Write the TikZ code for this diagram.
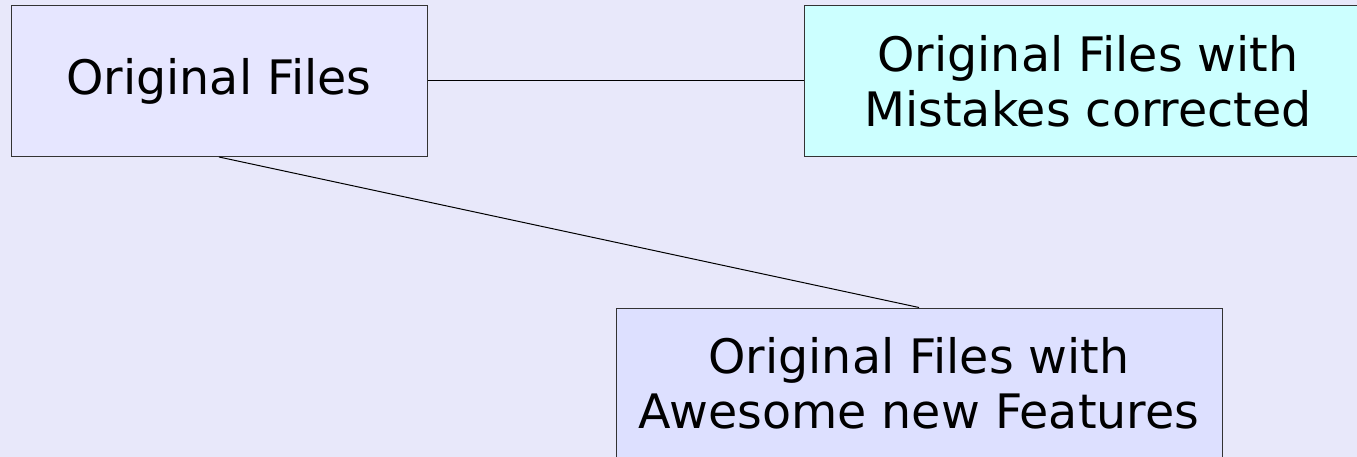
\documentclass[tikz,border=0pt]{standalone}
\usepackage{fontspec}
\setmainfont{DejaVu Sans}
\definecolor{bgcol}{HTML}{E8E8FA}
\definecolor{boxa}{HTML}{E6E6FF}
\definecolor{boxb}{HTML}{CCFFFF}
\definecolor{boxc}{HTML}{DDE0FF}
\definecolor{edgecol}{HTML}{333333}
\tikzset{
  filebox/.style={draw=edgecol, line width=1pt, minimum height=151pt, inner sep=0pt, align=center,
    font=\fontsize{47.5}{54.6}\selectfont},
  link/.style={draw=black, line width=1pt}
}
\begin{document}
\begin{tikzpicture}[x=1pt,y=-1pt]
\useasboundingbox (0,0) rectangle (1357,457);
\clip (0,0) rectangle (1357,457);
\fill[bgcol] (0,0) rectangle (1357,457);
\node[filebox, fill=boxa, minimum width=416pt] (b1) at (219,81) {Original Files};
\node[filebox, fill=boxb, minimum width=568pt] (b2) at (1088,81) {Original Files with\\Mistakes corrected};
\node[filebox, fill=boxc, minimum width=606pt] (b3) at (919,383.5) {Original Files with\\Awesome new Features};
\draw[link] (b1.east) -- (b2.west);
\draw[link] (b1.south) -- (b3.north);
\end{tikzpicture}
\end{document}
